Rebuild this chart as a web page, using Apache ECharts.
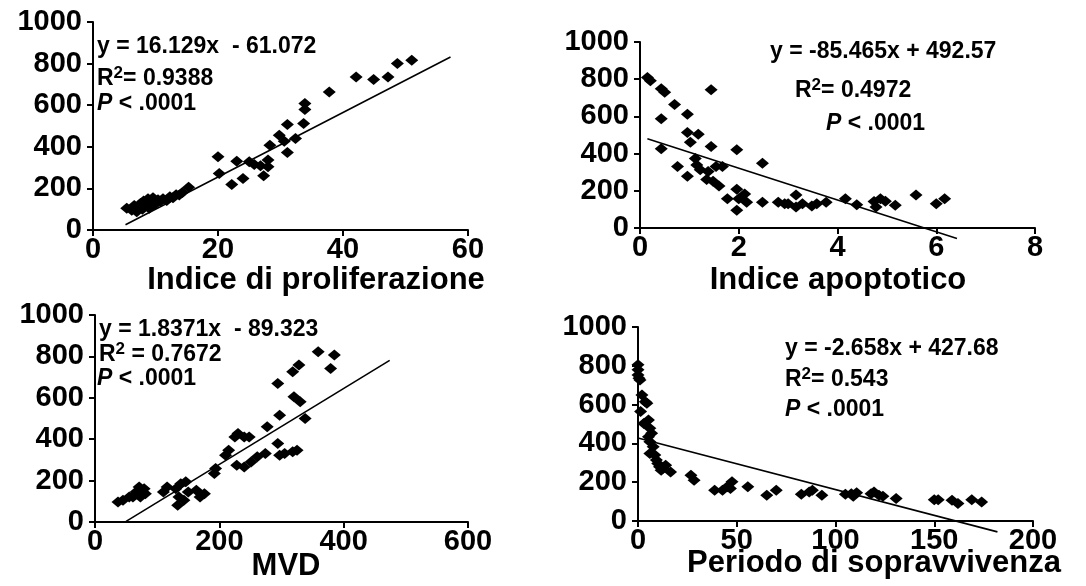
<!DOCTYPE html>
<html><head><meta charset="utf-8">
<script src="https://cdn.jsdelivr.net/npm/echarts@6/dist/echarts.min.js"></script>
<style>html,body{margin:0;padding:0;background:#fff}#c{width:1086px;height:586px}</style>
</head><body><div id="c"></div>
<script>
// Panel 1: Indice di proliferazione
const prolifX = [5.4,6.2,6.6,7.0,7.2,7.6,7.9,8.1,8.4,8.8,9.0,9.3,9.6,10.0,10.4,10.8,11.2,11.8,12.3,12.8,13.3,13.8,14.3,15.3,20.0,20.2,22.2,23.0,24.0,25.0,25.8,26.8,27.3,28.0,28.0,28.3,29.8,30.6,31.1,31.1,32.4,33.7,33.9,33.9,37.8,42.1,44.9,47.2,48.7,51.0];
const prolifY = [104,95,118,88,110,128,100,140,118,150,105,132,155,125,145,138,150,142,160,155,170,168,180,205,352,272,219,331,248,328,315,309,261,304,336,408,456,427,507,373,440,512,608,579,664,736,723,736,800,816];
// Panel 2: Indice apoptotico
const apoX = [0.15,0.21,0.43,0.5,0.7,0.96,0.43,1.44,0.96,1.18,1.02,0.43,1.44,1.96,2.48,0.76,0.96,1.12,1.15,1.22,1.38,1.54,1.67,1.35,1.48,1.6,1.77,1.96,2.0,2.12,2.16,1.96,2.48,2.8,2.93,3.0,3.16,3.16,3.29,3.48,3.58,3.77,4.16,4.39,4.74,4.87,4.97,4.78,5.17,5.59,6.0,6.17];
const apoY = [809,791,748,730,664,612,588,743,513,504,461,426,438,421,348,330,278,374,339,313,304,330,330,261,252,226,157,209,157,183,139,96,139,139,130,130,177,113,130,118,130,139,157,125,143,157,144,113,122,177,130,157];
// Panel 3: MVD
const mvdX = [37,45,55,61,66,71,73,79,81,110,116,130,133,135,138,143,146,150,163,169,176,192,194,210,215,225,230,240,248,228,240,251,261,274,277,294,297,297,305,318,325,294,318,328,320,330,338,359,385,379];
const mvdY = [97,105,121,121,145,169,121,161,137,145,169,161,81,121,185,105,194,145,153,121,137,234,258,323,347,411,427,411,411,274,266,290,315,331,460,379,516,323,331,339,347,669,726,758,605,581,500,823,807,742];
// Panel 4: Periodo di sopravvivenza
const survX = [0,0,0,0.5,1,2,3.7,4.5,1.3,5.3,2.9,6,6.9,5.3,6,7.7,6,8.5,9.3,10,10.9,11.7,12.5,14,16.5,26.8,28.4,38.8,42.8,45.2,47.6,46.8,55.6,65.2,70,82.7,86.7,88.3,93.1,105,108,110.7,109,118,119.5,122,124,130.7,150,152,159,162,169,174];
const survY = [805,779,753,736,727,650,615,607,564,520,503,478,452,434,409,383,348,340,314,297,279,262,270,288,253,236,210,159,159,176,202,167,176,133,159,138,150,159,133,138,141,145,128,141,150,133,128,116,110,110,107,90,110,98];
// Regression lines as drawn in the picture: end points [x, y]
const fitP = [[5.2,25],[57.2,832]];
const fitA = [[0.15,480],[6.42,-56]];
const fitM = [[50,3],[474,781]];
const fitS = [[0,428],[182,-56]];
// Tick settings
const yTicks = {min:0, max:1000, interval:200};
const xTicks = [{min:0,max:60,interval:20},{min:0,max:8,interval:2},{min:0,max:600,interval:200},{min:0,max:200,interval:50}];
const titles = ['Indice di proliferazione','Indice apoptotico','MVD','Periodo di sopravvivenza'];
const eqLines = ['y = 16.129x  - 61.072','y = -85.465x + 492.57','y = 1.8371x  - 89.323','y = -2.658x + 427.68'];
const r2Values = ['= 0.9388','= 0.4972',' = 0.7672','= 0.543'];
const pText = '< .0001';

const FONT = 'Liberation Sans';
const grids = [
  {left:93, top:22, width:375, height:208},
  {left:640, top:42, width:395, height:186},
  {left:95, top:315, width:373, height:207},
  {left:638, top:327, width:395, height:194}
].map(g => Object.assign({outerBoundsMode:'none', containLabel:false}, g));

const axisCommon = {
  axisLine:{show:true, onZero:false, lineStyle:{color:'#000', width:2}},
  axisTick:{show:true, length:6, lineStyle:{color:'#000', width:2}},
  splitLine:{show:false},
  axisLabel:{color:'#000', fontFamily:FONT, fontWeight:'bold', fontSize:29, formatter:v=>String(v)}
};
const xAxis = xTicks.map((t,i) => Object.assign({type:'value', gridIndex:i}, t, axisCommon,
  {axisLabel:Object.assign({}, axisCommon.axisLabel, {margin:5})}));
const yAxis = xTicks.map((t,i) => Object.assign({type:'value', gridIndex:i}, yTicks, axisCommon,
  {axisLabel:Object.assign({}, axisCommon.axisLabel, {margin:11})}));

const sets = [[prolifX,prolifY,fitP],[apoX,apoY,fitA],[mvdX,mvdY,fitM],[survX,survY,fitS]];
const series = [];
sets.forEach((s,i) => {
  series.push({type:'scatter', xAxisIndex:i, yAxisIndex:i, symbol:'diamond', symbolSize:[13,11],
    itemStyle:{color:'#000', opacity:1}, data:s[0].map((x,k)=>[x,s[1][k]]), silent:true, animation:false});
  series.push({type:'line', xAxisIndex:i, yAxisIndex:i, clip:false, showSymbol:false, symbol:'none',
    lineStyle:{color:'#000', width:1.6}, data:s[2], silent:true, animation:false});
});

const eqPos = [
  [[97,48],[97,80],[97,105]],
  [[770,53],[795,92],[826,125]],
  [[99,331],[99,356],[97,380]],
  [[785,350],[785,381],[785,411]]
];
const titlePos = [[316,280],[838,280],[286,566],[874,563]];
const rich = {
  n:{fontSize:23, fontWeight:'bold', fontFamily:FONT, fill:'#000'},
  s:{fontSize:17, fontWeight:'bold', fontFamily:FONT, fill:'#000', verticalAlign:'top', lineHeight:18},
  i:{fontStyle:'italic', fontWeight:'bold', fontSize:23, fontFamily:FONT, fill:'#000'}
};
const graphic = [];
eqLines.forEach((e,i) => {
  const p = eqPos[i];
  graphic.push({type:'text', left:p[0][0], top:p[0][1]-13, style:{text:e, font:'bold 23px "Liberation Sans"', fill:'#000'}});
  graphic.push({type:'text', left:p[1][0], top:p[1][1]-15, style:{text:'{n|R}{s|2}{n|'+r2Values[i]+'}', rich, lineHeight:28}});
  graphic.push({type:'text', left:p[2][0], top:p[2][1]-13, style:{text:'{i|P}{n| '+pText+'}', rich}});
});
titles.forEach((t,i) => {
  graphic.push({type:'text', x:titlePos[i][0], y:titlePos[i][1], style:{text:t, font:'bold 31px "Liberation Sans"', fill:'#000', align:'center', verticalAlign:'middle'}});
});

const chart = echarts.init(document.getElementById('c'), null, {renderer:'canvas'});
chart.setOption({animation:false, backgroundColor:'#fff', grid:grids, xAxis, yAxis, series, graphic});
</script></body></html>
